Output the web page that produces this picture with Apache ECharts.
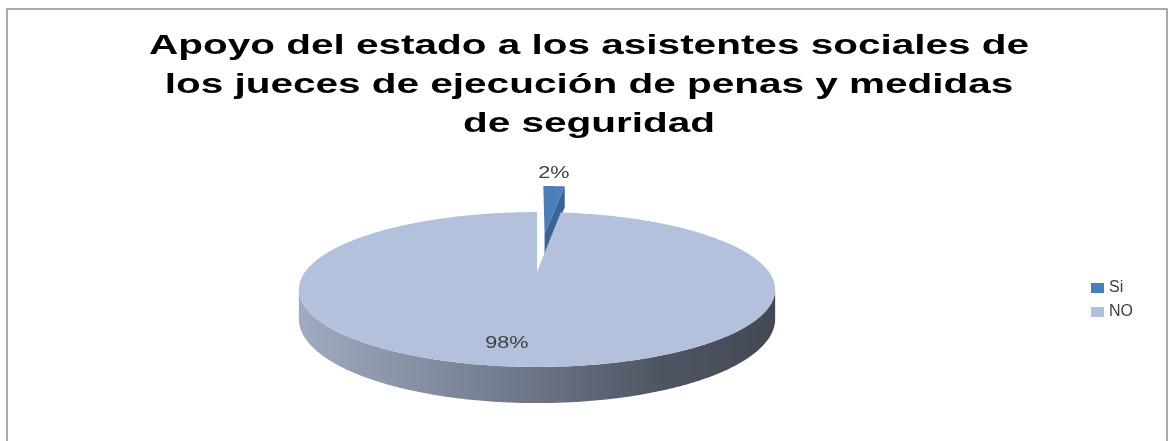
<!DOCTYPE html>
<html>
<head>
<meta charset="utf-8">
<script src="https://cdn.jsdelivr.net/npm/echarts@6/dist/echarts.min.js"></script>
<style>
html, body { margin: 0; padding: 0; background: #fff; }
#main { width: 1169px; height: 441px; }
</style>
</head>
<body>
<div id="main"></div>
<script type="text/javascript">
// datos del grafico
var categories = ['Si', 'NO'];
var values = [2, 98];
var sliceColors = ['#4a7ebb', '#b3c1dc'];
var sideColors = ['#3a6496', null];
var titleLines = ['Apoyo del estado a los asistentes sociales de', 'los jueces de ejecución de penas y medidas', 'de seguridad'];

// geometria del pastel 3D (perspectiva simple)
var cx = 537, cy = 272;   // centro del pastel en pantalla
var W = 232;              // semi ancho
var A = 73.5;             // inclinacion vertical
var B = 0.2258;           // perspectiva
var H = 28;               // grosor
var explode = [0.59, 0];  // separacion de cada porcion
var labelRadius = [1.25, 0.8];
var labelShift = [[-2, -3], [-16, 0]];
var stretch = 1.5;        // la imagen original esta estirada a lo ancho

var total = values.reduce(function (a, b) { return a + b; }, 0);
var startAngle = [], endAngle = [];
var acc = 0;
for (var i = 0; i < values.length; i++) {
	startAngle.push(acc / total * Math.PI * 2);
	acc += values[i];
	endAngle.push(acc / total * Math.PI * 2);
}

function renderSlice(idx) {
	return function (params, api) {
		var t0 = startAngle[idx], t1 = endAngle[idx], mid = (t0 + t1) / 2;
		var e = explode[idx];
		var ox = e * Math.sin(mid), oz = e * Math.cos(mid);
		function pt(r, t, down) {
			var X = ox + r * Math.sin(t), Z = oz + r * Math.cos(t);
			var s = 1 / (1 + B * Z);
			return [cx + W * X * s, cy - A * Z * s + (down ? H * s : 0)];
		}
		function arc(a0, a1, down) {
			var n = Math.max(2, Math.ceil((a1 - a0) / 0.01));
			var pts = [];
			for (var k = 0; k <= n; k++) pts.push(pt(1, a0 + (a1 - a0) * k / n, down));
			return pts;
		}
		var children = [];
		var dark = sideColors[idx] || sliceColors[idx];
		// caras radiales
		if (Math.sin(t1) > 0.001) {
			children.push({ type: 'polygon', shape: { points: [pt(0, t1), pt(1, t1), pt(1, t1, true), pt(0, t1, true)] },
				style: { fill: dark } });
		}
		if (Math.sin(t0) < -0.001) {
			children.push({ type: 'polygon', shape: { points: [pt(0, t0), pt(1, t0), pt(1, t0, true), pt(0, t0, true)] },
				style: { fill: dark } });
		}
		// pared exterior visible
		var s0 = Math.acos(-B), s1 = Math.PI * 2 - Math.acos(-B);
		var v0 = Math.max(t0, s0), v1 = Math.min(t1, s1);
		if (v1 > v0) {
			var wall = arc(v0, v1, false).concat(arc(v0, v1, true).reverse());
			children.push({ type: 'polygon', shape: { points: wall },
				style: { fill: new echarts.graphic.LinearGradient(0, 0, 1, 0, [
					{ offset: 0, color: '#a0abc1' },
					{ offset: 0.5, color: '#6c7486' },
					{ offset: 0.75, color: '#4f5663' },
					{ offset: 1, color: '#434954' }]) } });
		}
		// cara superior
		var topPts = [pt(0, t0)].concat(arc(t0, t1, false));
		children.push({ type: 'polygon', shape: { points: topPts }, style: { fill: sliceColors[idx] } });
		// etiqueta
		var lp = pt(labelRadius[idx], mid);
		children.push({ type: 'text', x: lp[0] + labelShift[idx][0], y: lp[1] + labelShift[idx][1], scaleX: 1.35,
			style: { text: Math.round(values[idx] / total * 100) + '%', fill: '#404040',
				fontSize: 16, fontFamily: 'Liberation Sans', align: 'center', verticalAlign: 'middle' } });
		return { type: 'group', children: children };
	};
}

var series = [];
for (var j = 0; j < categories.length; j++) {
	series.push({
		name: categories[j],
		type: 'custom',
		coordinateSystem: 'none',
		itemStyle: { color: sliceColors[j] },
		renderItem: renderSlice(j),
		data: [values[j]]
	});
}

var myChart = echarts.init(document.getElementById('main'));
var option = {
	animation: false,
	legend: {
		orient: 'vertical',
		left: 1086,
		top: 275,
		icon: 'rect',
		itemWidth: 13,
		itemHeight: 10,
		itemGap: 8,
		data: categories,
		textStyle: { fontFamily: 'Liberation Sans', fontSize: 16, color: '#404040' }
	},
	graphic: [{
		type: 'rect',
		shape: { x: 7, y: 9, width: 1160, height: 440 },
		style: { fill: 'none', stroke: '#8f8f8f', lineWidth: 1.5 }
	}, {
		type: 'text',
		x: 589,
		y: 27,
		scaleX: stretch,
		style: {
			text: titleLines.join('\n'),
			fontFamily: 'Liberation Sans',
			fontWeight: 'bold',
			fontSize: 27,
			lineHeight: 39,
			fill: '#000',
			align: 'center',
			verticalAlign: 'top'
		}
	}],
	series: series
};
myChart.setOption(option);
</script>
</body>
</html>
